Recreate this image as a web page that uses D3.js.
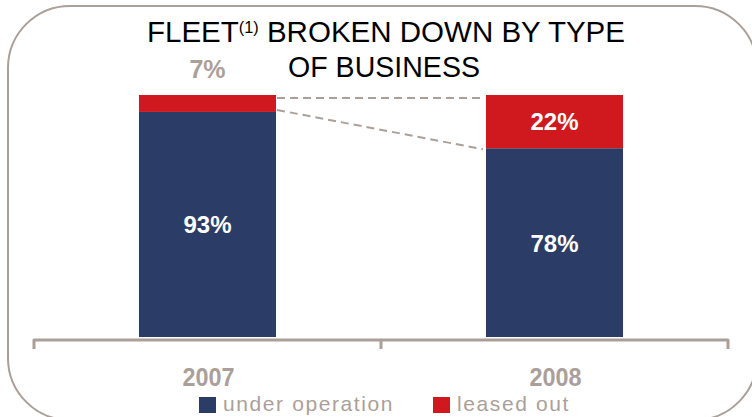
<!DOCTYPE html>
<html>
<head>
<meta charset="utf-8">
<script src="https://cdn.jsdelivr.net/npm/d3@7/dist/d3.min.js"></script>
<style>
  html, body { margin: 0; padding: 0; background: #fff; }
  svg { display: block; font-family: "Liberation Sans", Arial, sans-serif; }
</style>
</head>
<body>
<div id="chart"></div>
<script>
// chart values
var years = ["2007", "2008"];
var underOperation = [93, 78];
var leasedOut = [7, 22];
var seriesNames = ["under operation", "leased out"];

var width = 752, height = 417;
var navy = "#2b3d67", red = "#d0191f", grey = "#aba099";

var svg = d3.select("#chart").append("svg")
    .attr("width", width)
    .attr("height", height);

// rounded frame
svg.append("rect")
    .attr("x", 8).attr("y", 6)
    .attr("width", 749).attr("height", 414)
    .attr("rx", 62).attr("ry", 62)
    .attr("fill", "none")
    .attr("stroke", grey)
    .attr("stroke-width", 2);

var x = d3.scaleBand().domain(years).range([34, 728]);
var y = d3.scaleLinear().domain([0, 100]).range([337, 95]);
var barW = x.bandwidth() * 0.395;

var data = years.map(function (yr, i) {
    return { year: yr, op: underOperation[i], lease: leasedOut[i] };
});

var bars = svg.append("g").attr("class", "bars");

var groups = bars.selectAll("g")
    .data(data)
    .enter()
    .append("g")
    .attr("transform", function (d) {
        return "translate(" + (x(d.year) + (x.bandwidth() - barW) / 2) + ",0)";
    });

groups.append("rect")
    .attr("x", 0)
    .attr("y", function (d) { return y(d.op); })
    .attr("width", barW)
    .attr("height", function (d) { return y(0) - y(d.op); })
    .attr("fill", navy);

groups.append("rect")
    .attr("x", 0)
    .attr("y", function (d) { return y(d.op + d.lease); })
    .attr("width", barW)
    .attr("height", function (d) { return y(d.op) - y(d.op + d.lease); })
    .attr("fill", red);

// dashed connectors between the bars
var x0 = x(years[0]) + (x.bandwidth() + barW) / 2 + 1;
var x1 = x(years[1]) + (x.bandwidth() - barW) / 2 - 1;
svg.append("line")
    .attr("x1", x0).attr("y1", y(100) + 3)
    .attr("x2", x1).attr("y2", y(100) + 3)
    .attr("stroke", grey).attr("stroke-width", 2)
    .attr("stroke-dasharray", "8,5");
svg.append("line")
    .attr("x1", x0).attr("y1", y(underOperation[0]) - 2)
    .attr("x2", x1 - 2).attr("y2", y(underOperation[1]) + 1)
    .attr("stroke", grey).attr("stroke-width", 2)
    .attr("stroke-dasharray", "8,5");

// value labels
groups.append("text")
    .attr("x", barW / 2)
    .attr("y", function (d) { return (y(d.op) + y(0)) / 2 + 9; })
    .attr("text-anchor", "middle")
    .attr("fill", "#fff")
    .attr("font-weight", "bold")
    .attr("font-size", 24)
    .text(function (d) { return d.op + "%"; });

groups.append("text")
    .attr("x", barW / 2)
    .attr("y", function (d) {
        var h = y(d.op) - y(d.op + d.lease);
        return h > 30 ? (y(d.op) + y(d.op + d.lease)) / 2 + 8 : y(100) - 17;
    })
    .attr("text-anchor", "middle")
    .attr("fill", function (d) {
        return y(d.op) - y(d.op + d.lease) > 30 ? "#fff" : grey;
    })
    .attr("font-weight", "bold")
    .attr("font-size", function (d) {
        return y(d.op) - y(d.op + d.lease) > 30 ? 24 : 25;
    })
    .text(function (d) { return d.lease + "%"; });

// axis
var axis = svg.append("g").attr("class", "axis");
axis.append("path")
    .attr("d", "M" + x.range()[0] + ",349V340H" + x.range()[1] + "V349")
    .attr("fill", "none")
    .attr("stroke", grey)
    .attr("stroke-width", 3)
    .attr("stroke-linejoin", "round");
axis.append("line")
    .attr("x1", x(years[1])).attr("x2", x(years[1]))
    .attr("y1", 340).attr("y2", 349)
    .attr("stroke", grey).attr("stroke-width", 3);

axis.selectAll("text")
    .data(years)
    .enter()
    .append("text")
    .attr("x", function (d) { return x(d) + x.bandwidth() / 2 + 1; })
    .attr("y", 386)
    .attr("text-anchor", "middle")
    .attr("fill", grey)
    .attr("font-weight", "bold")
    .attr("font-size", 25)
    .attr("textLength", 52)
    .attr("lengthAdjust", "spacingAndGlyphs")
    .text(function (d) { return d; });

// title
var title = svg.append("text")
    .attr("x", 147).attr("y", 42)
    .attr("font-size", 29)
    .attr("fill", "#000")
    .attr("textLength", 478)
    .attr("lengthAdjust", "spacingAndGlyphs");
title.append("tspan").text("FLEET");
title.append("tspan").attr("font-size", 16).attr("dy", -9).text("(1)");
title.append("tspan").attr("dy", 9).text(" BROKEN DOWN BY TYPE");

svg.append("text")
    .attr("x", 288).attr("y", 77)
    .attr("font-size", 29)
    .attr("fill", "#000")
    .attr("textLength", 192)
    .attr("lengthAdjust", "spacingAndGlyphs")
    .text("OF BUSINESS");

// legend
var legendX = [199, 433];
var legendColors = [navy, red];
var legend = svg.append("g").attr("class", "legend")
    .selectAll("g")
    .data(seriesNames)
    .enter()
    .append("g")
    .attr("transform", function (d, i) { return "translate(" + legendX[i] + ",397)"; });

legend.append("rect")
    .attr("width", 17).attr("height", 16)
    .attr("fill", function (d, i) { return legendColors[i]; });

legend.append("text")
    .attr("x", 24).attr("y", 14)
    .attr("font-size", 21)
    .attr("letter-spacing", 1.6)
    .attr("fill", grey)
    .text(function (d) { return d; });
</script>
</body>
</html>
